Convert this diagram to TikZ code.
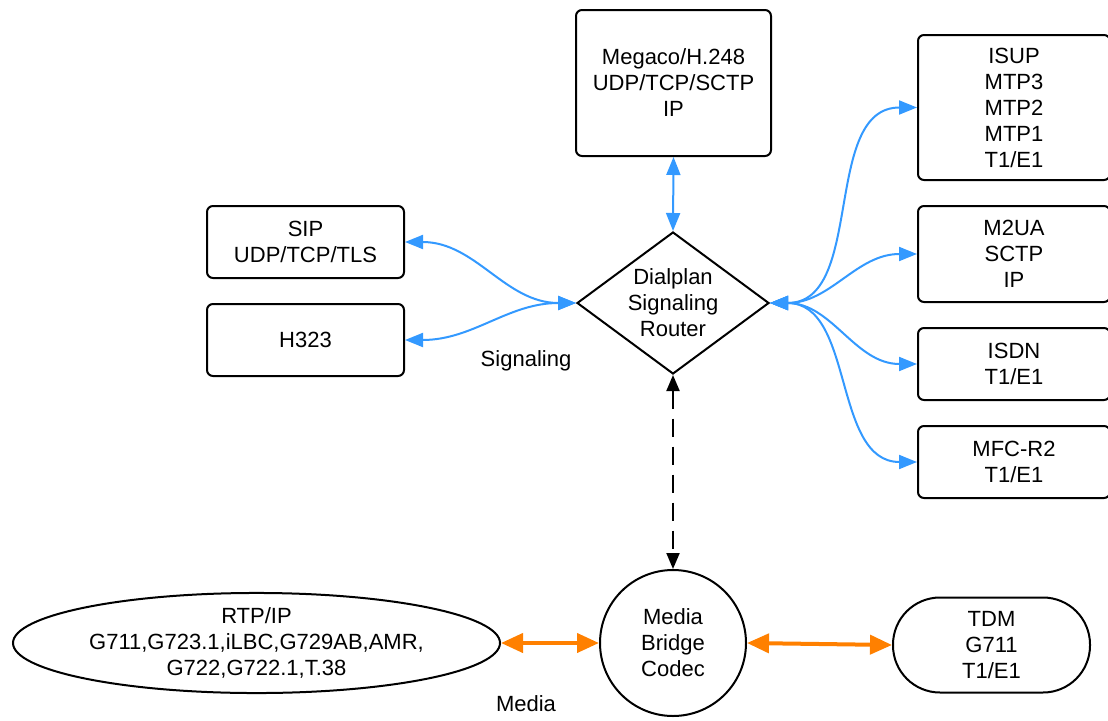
\documentclass[tikz,border=0pt]{standalone}
\usepackage{fontspec}
\setmainfont{Liberation Sans}
\usetikzlibrary{shapes.geometric,arrows.meta}
\definecolor{sigblue}{RGB}{51,153,255}
\definecolor{medorange}{RGB}{255,128,0}
\tikzset{
    protobox/.style={draw, line width=2pt, rounded corners=6pt, align=center},
    sigline/.style={sigblue, line width=2pt,
        {Triangle[length=18pt,width=14pt]}-{Triangle[length=18pt,width=14pt]}},
    medline/.style={medorange, line width=4pt,
        {Triangle[length=22pt,width=19pt]}-{Triangle[length=22pt,width=19pt]}}
}
\begin{document}
\begin{tikzpicture}[x=1pt, y=-1pt, font=\fontsize{22pt}{26pt}\selectfont]
    \useasboundingbox (0,0) rectangle (1108,720);
    \clip (0,0) rectangle (1108,720);
    % Central router and media bridge
    \node[draw, diamond, line width=2pt, inner sep=-6pt, aspect=1.35, align=center,
          minimum width=192pt, minimum height=142pt] (router) at (673,303)
          {Dialplan\\Signaling\\Router};
    \node[draw, circle, line width=2pt, align=center, minimum size=146pt]
          (bridge) at (673,643) {Media\\Bridge\\Codec};
    % Top box
    \node[protobox, minimum width=195pt, minimum height=146pt] (megaco) at (673.5,83)
          {Megaco/H.248\\UDP/TCP/SCTP\\IP};
    % Left boxes
    \node[protobox, minimum width=197pt, minimum height=72pt] (sip) at (305.5,242)
          {SIP\\UDP/TCP/TLS};
    \node[protobox, minimum width=197pt, minimum height=72pt] (h323) at (305.5,340)
          {H323};
    % Right boxes (cut by the edge)
    \node[protobox, minimum width=192pt, minimum height=145pt] (isup) at (1014,107.5)
          {ISUP\\MTP3\\MTP2\\MTP1\\T1/E1};
    \node[protobox, minimum width=192pt, minimum height=96pt] (m2ua) at (1014,254)
          {M2UA\\SCTP\\IP};
    \node[protobox, minimum width=192pt, minimum height=72pt] (isdn) at (1014,364)
          {ISDN\\T1/E1};
    \node[protobox, minimum width=192pt, minimum height=72pt] (mfcr2) at (1014,462)
          {MFC-R2\\T1/E1};
    % Media end points
    \node[draw, ellipse, line width=2pt, align=center, inner sep=0pt,
          minimum width=487pt, minimum height=91pt] (rtp) at (256.5,643)
          {RTP/IP\\G711,G723.1,iLBC,G729AB,AMR,\\G722,G722.1,T.38};
    \node[draw, line width=2pt, rounded corners=47pt, align=center,
          minimum width=197pt, minimum height=95pt] (tdm) at (991.5,645)
          {TDM\\G711\\T1/E1};
    % Labels
    \node (siglabel) at (526,361) {Signaling};
    \node (medlabel) at (526,704) {Media};
    % Signaling connectors
    \draw[sigline] (megaco.south) -- (router.north);
    \draw[sigline] (router.west) to[out=180, in=0] (sip.east);
    \draw[sigline] (router.west) to[out=180, in=0] (h323.east);
    \foreach \dest in {isup, m2ua, isdn, mfcr2}
        \draw[sigline] (router.east) to[out=0, in=180] (\dest.west);
    % Router to media bridge
    \draw[line width=2pt, dash pattern=on 18pt off 10pt,
          {Triangle[length=16pt,width=13pt]}-{Triangle[length=16pt,width=13pt]}]
          (router.south) -- (bridge.north);
    % Media connectors
    \draw[medline] (rtp.east) -- (bridge.west);
    \draw[medline] (bridge.east) -- (tdm.west);
\end{tikzpicture}
\end{document}
